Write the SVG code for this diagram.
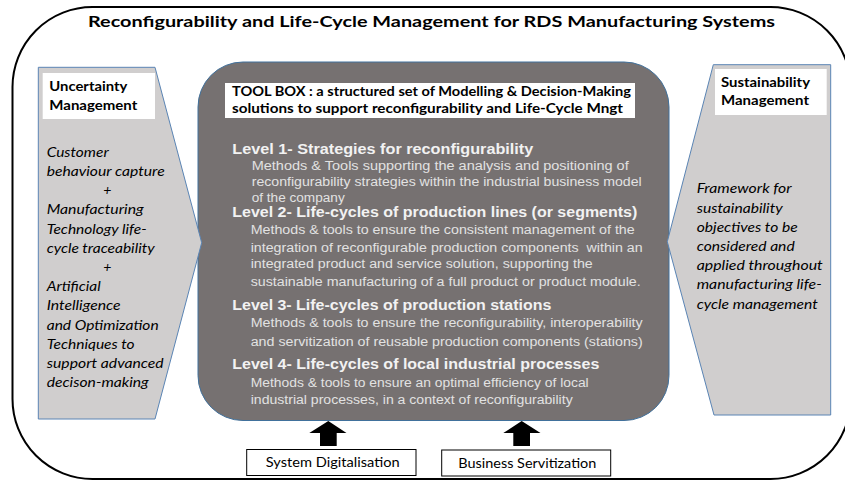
<svg xmlns="http://www.w3.org/2000/svg" width="845" height="482" viewBox="0 0 845 482">
<style>
.title{font-family:Lato,"Open Sans","Liberation Sans",sans-serif;font-weight:bold;font-size:16px;fill:#000}
.lbl{font-family:Lato,"Open Sans","Liberation Sans",sans-serif;font-weight:bold;font-size:13px;fill:#000}
.it{font-family:Lato,"Open Sans","Liberation Sans",sans-serif;font-style:italic;font-size:14px;fill:#000}
.tb{font-family:Lato,"Open Sans","Liberation Sans",sans-serif;font-weight:bold;font-size:14px;fill:#000}
.h{font-family:"Liberation Sans",Arial,sans-serif;font-weight:bold;font-size:14px;fill:#f2f2f2}
.b{font-family:"Liberation Sans",Arial,sans-serif;font-size:12.5px;fill:#e2e2e2}
.btn{font-family:Lato,"Open Sans","Liberation Sans",sans-serif;font-size:14px;fill:#000}
.panel{fill:#d0cece;stroke:#5a84b4;stroke-width:1}
.wbox{fill:#fff}
.arrow{fill:#000}
.box{fill:#fff;stroke:#000;stroke-width:1}
</style>
<rect x="12.5" y="7" width="838" height="472" rx="80" ry="80" fill="#fff" stroke="#000" stroke-width="2"/>
<text class="title" x="88" y="27" textLength="687" lengthAdjust="spacingAndGlyphs">Reconfigurability and Life-Cycle Management for RDS Manufacturing Systems</text>

<g id="toolbox">
<rect x="198" y="62" width="471" height="358.5" rx="45" ry="45" fill="#767171" stroke="#41719c" stroke-width="1"/>
<rect class="wbox" x="225" y="83" width="410" height="35"/>
<text class="tb" x="232" y="96" textLength="399" lengthAdjust="spacingAndGlyphs">TOOL BOX : a structured set of Modelling &amp; Decision-Making</text>
<text class="tb" x="232" y="113" textLength="391" lengthAdjust="spacingAndGlyphs">solutions to support reconfigurability and Life-Cycle Mngt</text>
<text class="h" x="232.3" y="154" textLength="301" lengthAdjust="spacingAndGlyphs">Level 1- Strategies for reconfigurability</text>
<text class="b" x="251.7" y="170" textLength="377" lengthAdjust="spacingAndGlyphs">Methods &amp; Tools supporting the analysis and positioning of</text>
<text class="b" x="251.7" y="186" textLength="390" lengthAdjust="spacingAndGlyphs">reconfigurability strategies within the industrial business model</text>
<text class="b" x="251.7" y="201.7" textLength="93" lengthAdjust="spacingAndGlyphs">of the company</text>
<text class="h" x="232.3" y="217" textLength="405" lengthAdjust="spacingAndGlyphs">Level 2- Life-cycles of production lines (or segments)</text>
<text class="b" x="250.7" y="234.3" textLength="384" lengthAdjust="spacingAndGlyphs">Methods &amp; tools to ensure the consistent management of the</text>
<text class="b" x="250.7" y="251.7" textLength="392" lengthAdjust="spacingAndGlyphs" xml:space="preserve">integration of reconfigurable production components  within an</text>
<text class="b" x="250.7" y="268.3" textLength="342" lengthAdjust="spacingAndGlyphs">integrated product and service solution, supporting the</text>
<text class="b" x="250.7" y="286" textLength="390" lengthAdjust="spacingAndGlyphs">sustainable manufacturing of a full product or product module.</text>
<text class="h" x="232.3" y="310" textLength="319" lengthAdjust="spacingAndGlyphs">Level 3- Life-cycles of production stations</text>
<text class="b" x="250.7" y="327.3" textLength="392" lengthAdjust="spacingAndGlyphs">Methods &amp; tools to ensure the reconfigurability, interoperability</text>
<text class="b" x="250.7" y="345.7" textLength="392" lengthAdjust="spacingAndGlyphs">and servitization of reusable production components (stations)</text>
<text class="h" x="232.3" y="369.3" textLength="367" lengthAdjust="spacingAndGlyphs">Level 4- Life-cycles of local industrial processes</text>
<text class="b" x="250.7" y="386.7" textLength="338" lengthAdjust="spacingAndGlyphs">Methods &amp; tools to ensure an optimal efficiency of local</text>
<text class="b" x="250.7" y="404" textLength="322" lengthAdjust="spacingAndGlyphs">industrial processes, in a context of reconfigurability</text>
</g>

<g id="uncertainty">
<polygon class="panel" points="38.3,67.3 155,67.3 201.7,242.7 155,419 38.3,419"/>
<rect class="wbox" x="42.7" y="73" width="112.3" height="46"/>
<text class="lbl" x="49.3" y="90.5" textLength="78" lengthAdjust="spacingAndGlyphs">Uncertainty</text>
<text class="lbl" x="49.3" y="110" textLength="88" lengthAdjust="spacingAndGlyphs">Management</text>
<text class="it" x="46.7" y="156.7" textLength="62" lengthAdjust="spacingAndGlyphs">Customer</text>
<text class="it" x="46.7" y="175.9" textLength="118" lengthAdjust="spacingAndGlyphs">behaviour capture</text>
<text class="it" x="107.3" y="195.1" text-anchor="middle">+</text>
<text class="it" x="46.7" y="214.3" textLength="97" lengthAdjust="spacingAndGlyphs">Manufacturing</text>
<text class="it" x="46.7" y="233.5" textLength="100" lengthAdjust="spacingAndGlyphs">Technology life-</text>
<text class="it" x="46.7" y="252.7" textLength="108" lengthAdjust="spacingAndGlyphs">cycle traceability</text>
<text class="it" x="107.3" y="271.9" text-anchor="middle">+</text>
<text class="it" x="46.7" y="291.1" textLength="54" lengthAdjust="spacingAndGlyphs">Artificial</text>
<text class="it" x="46.7" y="310.3" textLength="74" lengthAdjust="spacingAndGlyphs">Intelligence</text>
<text class="it" x="46.7" y="329.5" textLength="112" lengthAdjust="spacingAndGlyphs">and Optimization</text>
<text class="it" x="46.7" y="348.7" textLength="88" lengthAdjust="spacingAndGlyphs">Techniques to</text>
<text class="it" x="46.7" y="367.9" textLength="117" lengthAdjust="spacingAndGlyphs">support advanced</text>
<text class="it" x="46.7" y="387.1" textLength="102" lengthAdjust="spacingAndGlyphs">decison-making</text>
</g>

<g id="sustainability">
<polygon class="panel" points="713.3,64.7 830.7,64.7 830.7,415 714,415 667.3,241.7"/>
<rect class="wbox" x="715" y="69" width="111.7" height="46"/>
<text class="lbl" x="721" y="86.7" textLength="89" lengthAdjust="spacingAndGlyphs">Sustainability</text>
<text class="lbl" x="721" y="105" textLength="88" lengthAdjust="spacingAndGlyphs">Management</text>
<text class="it" x="696.7" y="193.3" textLength="95" lengthAdjust="spacingAndGlyphs">Framework for</text>
<text class="it" x="696.7" y="212.5" textLength="86" lengthAdjust="spacingAndGlyphs">sustainability</text>
<text class="it" x="696.7" y="231.7" textLength="101" lengthAdjust="spacingAndGlyphs">objectives to be</text>
<text class="it" x="696.7" y="250.9" textLength="98" lengthAdjust="spacingAndGlyphs">considered and</text>
<text class="it" x="696.7" y="270.1" textLength="126" lengthAdjust="spacingAndGlyphs">applied throughout</text>
<text class="it" x="696.7" y="289.3" textLength="125" lengthAdjust="spacingAndGlyphs">manufacturing life-</text>
<text class="it" x="696.7" y="308.5" textLength="121" lengthAdjust="spacingAndGlyphs">cycle management</text>
</g>

<g id="digitalisation">
<rect class="box" x="246.7" y="449.5" width="169.3" height="26"/>
<text class="btn" x="265.7" y="467.3" textLength="134" lengthAdjust="spacingAndGlyphs">System Digitalisation</text>
</g>
<g id="servitization">
<rect class="box" x="441.7" y="450" width="169" height="26"/>
<text class="btn" x="458.3" y="467.8" textLength="138" lengthAdjust="spacingAndGlyphs">Business Servitization</text>
</g>

<g id="connectors">
<polygon class="arrow" points="328.3,421 346.5,433 336.7,433 336.7,446 320,446 320,433 309.3,433"/>
<polygon class="arrow" points="521.7,421 540.5,433 530,433 530,446 513.3,446 513.3,433 503.3,433"/>
</g>
</svg>
